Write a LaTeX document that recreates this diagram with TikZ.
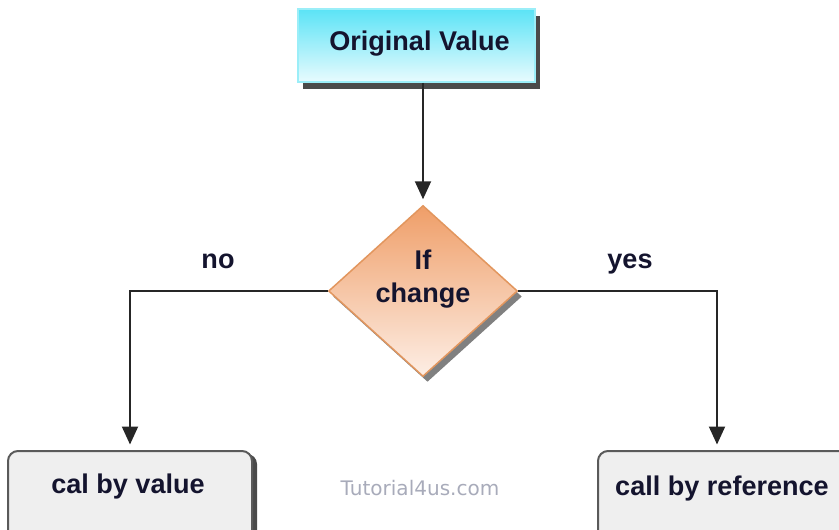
\documentclass[tikz,border=0pt]{standalone}
\usepackage{fontspec}
\setmainfont{Liberation Sans}
\newfontfamily\markfont{DejaVu Sans}
\usetikzlibrary{shapes.geometric,shadows,arrows.meta}
\begin{document}
\begin{tikzpicture}[
  txt/.style={font=\bfseries\fontsize{15.4}{18.5}\selectfont, text=txtcol, inner sep=0pt},
  startbox/.style={draw=cyanedge, line width=0.03cm, top color=cyantop, bottom color=cyanbot,
    minimum width=4.74cm, minimum height=1.46cm,
    drop shadow={shadow xshift=0.09cm, shadow yshift=-0.13cm, fill=shadowcol, opacity=1}},
  decision/.style={diamond, draw=orangeedge, line width=0.03cm, top color=orangetop, bottom color=orangebot,
    minimum width=3.78cm, minimum height=3.42cm, inner sep=0pt,
    drop shadow={shadow xshift=0.09cm, shadow yshift=-0.11cm, fill=shadowcol!70, opacity=1}},
  endbox/.style={draw=boxedge, line width=0.04cm, fill=boxfill, rounded corners=0.2cm,
    minimum height=2.2cm,
    drop shadow={shadow xshift=0.1cm, shadow yshift=-0.06cm, fill=shadowcol, opacity=1}},
  conn/.style={line width=0.04cm, draw=black!85},
  arr/.style={conn, -{Triangle[width=0.32cm,length=0.36cm]}, shorten >=0.11cm}
]
\definecolor{txtcol}{rgb}{0.08,0.08,0.18}
\definecolor{cyantop}{HTML}{5BE3F6}
\definecolor{cyanbot}{HTML}{E8FBFE}
\definecolor{cyanedge}{HTML}{9BEEF8}
\definecolor{orangetop}{HTML}{EF9E68}
\definecolor{orangebot}{HTML}{FDEEE5}
\definecolor{orangeedge}{HTML}{E2965E}
\definecolor{boxfill}{HTML}{EFEFEF}
\definecolor{boxedge}{HTML}{5A5A5A}
\definecolor{shadowcol}{HTML}{4A4A4A}
\definecolor{markcol}{rgb}{0.66,0.67,0.73}
\path[use as bounding box, clip] (0,0) rectangle (16.78,10.58);
\node[startbox] (orig) at (8.33,9.67) {};
\node[txt] (origtxt) at (8.39,9.7) {Original Value};
\node[decision] (chg) at (8.46,4.76) {};
\node[txt, align=center] (chgtxt) at (8.46,5.0) {If\\change};
\node[endbox, minimum width=4.88cm, anchor=north] (valbox) at (2.6,1.58) {};
\node[txt] (valtxt) at (2.56,0.86) {cal by value};
\node[endbox, minimum width=5.3cm, anchor=north west] (refbox) at (11.94,1.58) {};
\node[txt] (reftxt) at (14.44,0.82) {call by reference};
\node[font=\markfont\fontsize{11.4}{13}\selectfont, text=markcol] (mark) at (8.4,0.82) {Tutorial4us.com};
\node[txt, anchor=base] (nolbl) at (4.36,5.22) {no};
\node[txt, anchor=base] (yeslbl) at (12.6,5.22) {yes};
\draw[arr] (orig.south -| chg.north) -- (chg.north);
\draw[arr] (chg.west) -| (valbox.north);
\draw[arr] (chg.east) -| ([xshift=-0.27cm]refbox.north);
\end{tikzpicture}
\end{document}
